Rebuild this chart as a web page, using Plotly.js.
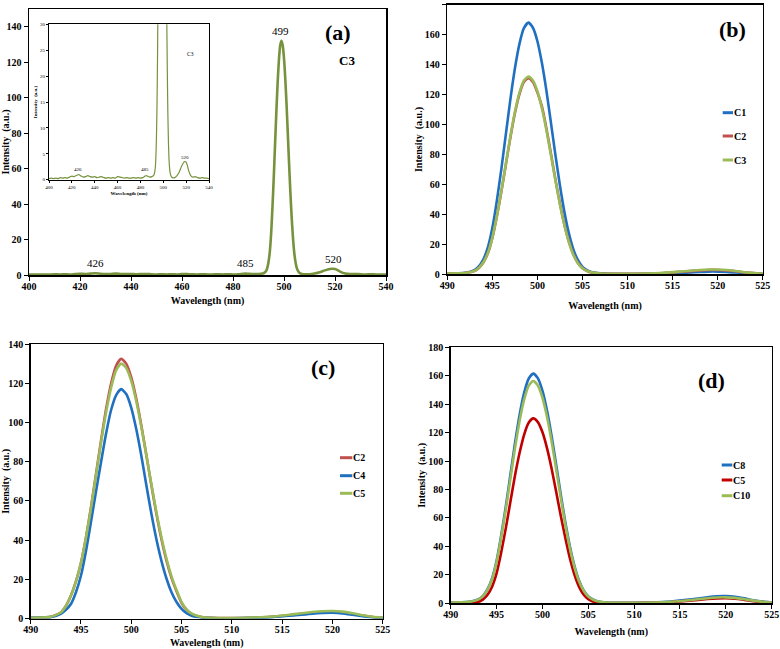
<!DOCTYPE html>
<html><head><meta charset="utf-8">
<script src="https://cdn.plot.ly/plotly-3.0.1.min.js"></script>
<style>html,body{margin:0;padding:0;background:#fff;}#chart{width:780px;height:649px;}</style>
</head><body><div id="chart"></div>
<script>
// ---------- DATA ----------
// Panel (a): C3 emission spectrum (full range)
const wlA = [400,402,404,406,408,410,412,414,416,418,420,422,424,426,428,430,432,434,436,438,440,442,444,446,448,450,452,454,456,458,460,462,464,466,468,470,472,474,476,478,480,482,484,485,486,488,490,491,492,493,493.5,494,494.5,495,495.5,496,496.5,497,497.5,498,498.5,499,499.5,500,500.5,501,501.5,502,502.5,503,503.5,504,504.5,505,505.5,506,507,508,510,512,514,516,518,519,520,521,522,524,526,528,530,532,534,536,538,540];
const intA = [0.2,0.3,0.2,0.3,0.2,0.4,0.3,0.4,0.3,0.5,0.7,0.6,0.8,1.0,0.7,0.5,0.6,0.8,0.6,0.5,0.6,0.4,0.5,0.6,0.4,0.3,0.4,0.3,0.4,0.3,0.6,0.5,0.4,0.3,0.4,0.3,0.3,0.4,0.3,0.4,0.3,0.4,0.7,0.8,0.7,0.5,0.6,0.7,1.0,2.3,4.3,8.0,14.2,24.5,38.9,55.6,73.8,92.0,108.3,121.1,129.4,132,129.4,122.2,110.7,96.2,79.6,62.6,46.6,32.6,21.4,12.9,7.4,4.0,2.3,1.3,0.6,0.4,0.4,0.8,1.5,2.6,3.4,3.5,3.4,2.8,1.9,0.8,0.5,0.6,0.4,0.3,0.4,0.3,0.3,0.2];
const peakLabelsA = ['426','485','499','520'];

// Panels (b), (c), (d): shared wavelength grid
const wl = [490,491,492,493,493.5,494,494.5,495,495.5,496,496.5,497,497.5,498,498.5,499,499.5,500,500.5,501,501.5,502,502.5,503,503.5,504,504.5,505,505.5,506,507,508,510,512,514,516,518,519,520,521,522,523,524,525];

// (b)
const namesB = ['C1','C2','C3'];
const b_C1 = [0.5,0.7,1.0,2.8,5.3,10.0,17.9,31.0,49.2,70.4,93.6,116.8,137.4,153.7,164.3,168,164.6,155.6,141.0,122.5,101.3,79.6,59.3,41.5,27.2,16.5,9.4,5.0,2.8,1.6,0.6,0.3,0.2,0.3,0.5,0.9,1.5,1.8,1.8,1.6,1.2,0.8,0.5,0.3];
const b_C2 = [0.5,0.6,0.9,2.2,4.2,7.9,14.0,24.3,38.6,55.2,73.3,91.3,107.5,120.2,128.4,131,128.4,121.3,112.1,97.4,80.6,63.3,47.2,33.0,21.6,13.1,7.5,4.0,2.2,1.2,0.5,0.4,0.3,0.5,0.9,1.7,2.6,2.9,2.9,2.6,2.0,1.3,0.8,0.4];
const b_C3 = [0.5,0.6,0.9,2.2,4.3,8.0,14.2,24.5,38.9,55.6,73.8,92.0,108.3,121.1,129.4,132,129.4,122.2,110.7,96.2,79.6,62.6,46.6,32.6,21.4,12.9,7.4,4.0,2.3,1.3,0.5,0.3,0.3,0.5,1.0,1.9,2.9,3.2,3.2,2.9,2.2,1.4,0.8,0.4];

// (c)
const namesC = ['C2','C4','C5'];
const c_C2 = [0.5,0.6,1.0,3.2,6.5,11.8,19.0,28.5,41.5,57.0,74.0,91.0,107.0,120.0,129.0,132.4,130.0,123.0,112.1,98.5,83.4,68.0,53.5,40.5,29.6,20.8,14.0,8.0,4.5,2.4,0.8,0.4,0.3,0.5,1.0,1.9,3.0,3.4,3.5,3.2,2.4,1.6,0.9,0.5];
const c_C4 = [0.5,0.6,0.8,2.5,4.5,7.5,13.5,22.0,34.5,49.5,65.0,80.0,94.5,106.5,114.0,117,114.5,107.5,96.5,83.0,68.0,53.5,40.5,29.5,20.5,13.5,8.5,5.0,2.8,1.5,0.6,0.3,0.2,0.4,0.8,1.6,2.6,2.9,3.0,2.7,2.0,1.3,0.7,0.4];
const c_C5 = [0.5,0.6,1.0,3.2,6.5,11.8,19.0,28.5,41.4,56.6,73.3,89.9,105.3,117.9,126.7,130,127.8,121.2,110.8,97.8,83.2,68.4,54.2,41.5,30.6,21.6,14.6,8.5,4.8,2.6,0.9,0.4,0.3,0.6,1.1,2.2,3.4,3.8,3.9,3.6,2.8,1.8,1.0,0.6];

// (d)
const namesD = ['C8','C5','C10'];
const d_C8 = [0.5,0.7,1.0,2.7,5.1,9.7,17.3,29.9,47.6,67.7,90.0,112.2,132.1,147.8,157.9,161.5,158.3,149.5,135.5,117.7,97.4,76.6,57.0,39.9,26.2,15.8,9.0,4.8,2.7,1.5,0.5,0.3,0.3,0.6,1.3,2.6,4.3,5.0,5.1,4.6,3.5,2.2,1.2,0.6];
const d_C5 = [0.2,0.2,0.3,1.0,2.6,5.8,11.5,21.0,35.5,52.5,71.0,89.5,105.5,118.5,127.0,130,127.4,120.4,109.1,94.8,78.4,61.6,45.9,31.5,20.0,11.5,6.0,2.9,1.3,0.6,0.2,0.2,0.2,0.4,0.9,1.8,3.0,3.4,3.5,3.2,2.4,1.5,0.8,0.4];
const d_C10 = [0.5,0.7,1.0,2.6,5.0,9.4,16.7,28.9,46.1,65.5,87.1,108.6,127.9,143.0,152.9,156.3,153.2,144.7,131.1,113.9,94.2,74.1,55.2,38.6,25.3,15.3,8.8,4.7,2.6,1.4,0.5,0.3,0.3,0.5,1.1,2.2,3.6,4.1,4.2,3.8,2.9,1.9,1.0,0.5];

const panelLabels = ['(a)','(b)','(c)','(d)'];

// ---------- STYLE / LAYOUT ----------
const W = 780, H = 649;
const PX = x => x / W, PY = y => 1 - y / H;
const SERIF = 'Liberation Serif, Times New Roman, serif';
const BLUE = '#1F70C1', RED = '#C0504D', DRED = '#C00000', GREEN = '#9BBB59', OLIVE = '#76923C';

function tfont(size, bold) { return {family: SERIF, size: size, color: '#000', weight: bold ? 'bold' : 'normal'}; }

function axis(dom, range, dtick, title, anchor, horiz, standoff, opts) {
  const a = {
    domain: horiz ? [PX(dom[0]), PX(dom[1])] : [PY(dom[1]), PY(dom[0])],
    range: range, dtick: dtick, tick0: range[0],
    anchor: anchor, showgrid: false, zeroline: false,
    showline: true, mirror: true, linecolor: '#000', linewidth: 1.5,
    ticks: 'outside', ticklen: 4, tickwidth: 1, tickcolor: '#000',
    ticklabelstandoff: horiz ? -3 : 0,
    tickfont: tfont(10, true),
    automargin: false, fixedrange: true,
    title: {text: title, standoff: standoff, font: tfont(10, true)}
  };
  return Object.assign(a, opts || {});
}

const traces = [];
function addLine(x, y, name, color, xa, ya, w) {
  traces.push({x: x, y: y, name: name, type: 'scatter', mode: 'lines',
    line: {color: color, width: w || 2.6, shape: 'spline', smoothing: 0.6},
    xaxis: xa, yaxis: ya, showlegend: false, hoverinfo: 'skip'});
}
addLine(wlA, intA, 'C3', OLIVE, 'x', 'y', 2.6);
addLine(wlA, intA, 'C3 (inset)', OLIVE, 'x5', 'y5', 1.2);
const colB = [BLUE, RED, GREEN];
[b_C1, b_C2, b_C3].forEach((s, i) => addLine(wl, s, namesB[i], colB[i], 'x2', 'y2'));
const colC = [RED, BLUE, GREEN];
[c_C2, c_C4, c_C5].forEach((s, i) => addLine(wl, s, namesC[i], colC[i], 'x3', 'y3'));
const colD = [BLUE, DRED, GREEN];
[d_C8, d_C5, d_C10].forEach((s, i) => addLine(wl, s, namesD[i], colD[i], 'x4', 'y4'));

const XT = 'Wavelength (nm)', YT = 'Intensity  (a.u.)';
const inset = {linewidth: 1, ticklen: 2, ticklabelstandoff: 0, tickfont: tfont(5, false)};
const layout = {
  width: W, height: H, margin: {l: 0, r: 0, t: 0, b: 0},
  paper_bgcolor: '#fff', plot_bgcolor: '#fff', showlegend: false,
  font: {family: SERIF, color: '#000'},
  xaxis:  axis([29, 386], [400, 540], 20, XT, 'y', true, 6),
  yaxis:  axis([9, 275], [0, 150], 20, YT, 'x', false, 0),
  xaxis2: axis([447.3, 762.7], [490, 525], 5, XT, 'y2', true, 12),
  yaxis2: axis([4.7, 274.3], [0, 180], 20, YT, 'x2', false, 0),
  xaxis3: axis([30.7, 382.7], [490, 525], 5, XT, 'y3', true, 8),
  yaxis3: axis([344, 618.7], [0, 140], 20, YT, 'x3', false, 0),
  xaxis4: axis([450.7, 771.7], [490, 525], 5, XT, 'y4', true, 9),
  yaxis4: axis([347.3, 603.3], [0, 180], 20, YT, 'x4', false, 0),
  xaxis5: axis([49, 209], [400, 540], 20, XT, 'y5', true, 2, Object.assign({}, inset, {title: {text: XT, standoff: 2, font: tfont(5, true)}})),
  yaxis5: axis([24.3, 179.7], [0, 30], 5, YT, 'x5', false, 2, Object.assign({}, inset, {title: {text: YT, standoff: 2, font: tfont(5, true)}})),
  annotations: [], shapes: []
};

function note(text, x, y, size, bold, opts) {
  layout.annotations.push(Object.assign({text: text, x: PX(x), y: PY(y), xref: 'paper', yref: 'paper',
    showarrow: false, xanchor: 'center', yanchor: 'middle', borderpad: 0,
    font: tfont(size, bold)}, opts || {}));
}
// panel letters
note(panelLabels[0], 338, 32, 22, true);
note(panelLabels[1], 732.7, 30, 22, true);
note(panelLabels[2], 323, 367, 22, true);
note(panelLabels[3], 711.7, 380, 22, true);
// panel (a) texts
note('C3', 346.7, 61, 13, true);
const peakLabelPx = [[95, 263], [245, 263], [280, 31], [333, 259]];
peakLabelsA.forEach((t, i) => note(t, peakLabelPx[i][0], peakLabelPx[i][1], 11, false));
// inset texts
const insetLabelPx = [[78, 169], [145, 170], [185, 157]];
['426', '485', '520'].forEach((t, i) => note(t, insetLabelPx[i][0], insetLabelPx[i][1], 5, false));
note('C3', 190, 54, 5.5, false);

// legends (line sample + label)
function legend(names, colors, x0, x1, ys) {
  names.forEach((n, i) => {
    layout.shapes.push({type: 'line', xref: 'paper', yref: 'paper', x0: PX(x0), x1: PX(x1), y0: PY(ys[i]), y1: PY(ys[i]),
      line: {color: colors[i], width: 3}});
    note(n, x1, ys[i], 10, true, {xanchor: 'left'});
  });
}
legend(namesB, colB, 722.7, 733, [112.7, 136, 160]);
legend(namesC, colC, 340, 352.3, [457.7, 475.7, 493.3]);
legend(namesD, colD, 721.7, 732.3, [465, 480, 495.7]);

Plotly.newPlot('chart', traces, layout, {staticPlot: true, displayModeBar: false});
</script></body></html>
